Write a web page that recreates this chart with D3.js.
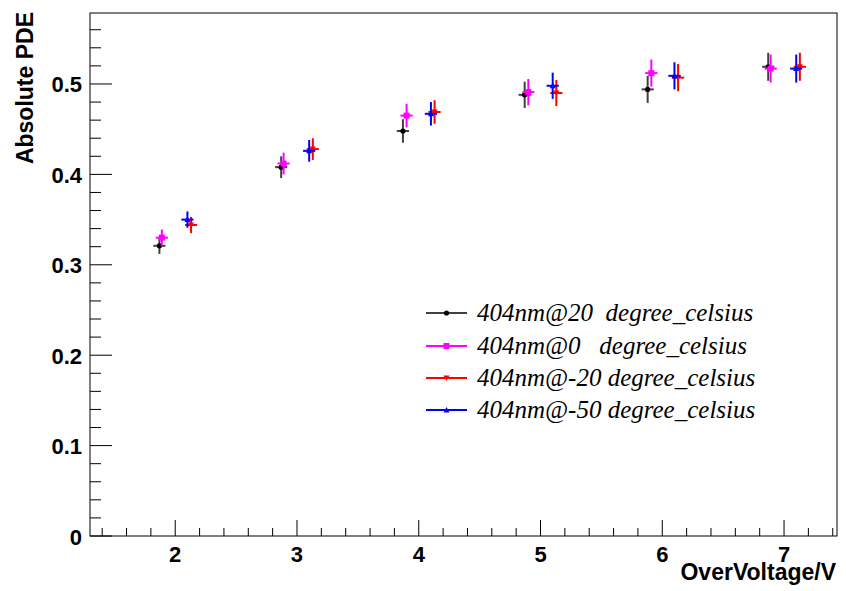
<!DOCTYPE html>
<html><head><meta charset="utf-8">
<script src="https://cdn.jsdelivr.net/npm/d3@7"></script>
<style>body{margin:0;background:#fff}svg{display:block}</style>
</head><body>
<script>
// ---- data ----
const xTicks = [2,3,4,5,6,7];
const yTicks = [0,0.1,0.2,0.3,0.4,0.5];
const seriesNames = ["404nm@20  degree_celsius","404nm@0   degree_celsius","404nm@-20 degree_celsius","404nm@-50 degree_celsius"];
const seriesColors = ["#000000","#ff00ff","#ff0000","#0000ff"];
const seriesMarkers = ["circle","square","triangleDown","triangleUp"];
const x20  = [1.87,2.87,3.87,4.87,5.88,6.87];
const y20  = [0.321,0.408,0.448,0.488,0.494,0.519];
const x0   = [1.89,2.89,3.90,4.90,5.91,6.89];
const y0   = [0.330,0.412,0.465,0.491,0.512,0.517];
const xM20 = [2.13,3.13,4.13,5.13,6.13,7.13];
const yM20 = [0.344,0.428,0.469,0.490,0.507,0.519];
const xM50 = [2.10,3.10,4.10,5.10,6.10,7.10];
const yM50 = [0.350,0.426,0.467,0.498,0.509,0.517];
const yErr = [0.009,0.012,0.013,0.0145,0.015,0.0155];
const xErr = 0.05;

const W=846,H=591;
const L=90,R=837,T=13,B=536;
const svg=d3.select("body").append("svg").attr("width",W).attr("height",H);
const x=d3.scaleLinear().domain([1.3,7.435]).range([L,R]);
const y=d3.scaleLinear().domain([0,0.5785]).range([B,T]);

// frame
svg.append("rect").attr("x",L).attr("y",T).attr("width",R-L).attr("height",B-T)
  .attr("fill","none").attr("stroke","#000").attr("stroke-width",1);

// x axis
const xMinor=d3.range(1.4,7.44,0.2).filter(v=>Math.abs(v-Math.round(v))>1e-6);
const gx=svg.append("g");
gx.selectAll(".mj").data(xTicks).join("line").attr("x1",d=>x(d)).attr("x2",d=>x(d))
  .attr("y1",B).attr("y2",B-16).attr("stroke","#000").attr("stroke-width",1);
gx.selectAll(".mn").data(xMinor).join("line").attr("class","mn").attr("x1",d=>x(d)).attr("x2",d=>x(d))
  .attr("y1",B).attr("y2",B-8).attr("stroke","#000").attr("stroke-width",1);
gx.selectAll("text").data(xTicks).join("text").attr("x",d=>x(d)).attr("y",562)
  .attr("text-anchor","middle").attr("font-family","Liberation Sans, Arial, sans-serif")
  .attr("font-weight","bold").attr("font-size",22).text(d=>d);
svg.append("text").attr("x",836).attr("y",580).attr("text-anchor","end")
  .attr("font-family","Liberation Sans, Arial, sans-serif").attr("font-weight","bold")
  .attr("font-size",23).text("OverVoltage/V");

// y axis
const yMinor=d3.range(0.02,0.575,0.02).filter(v=>Math.abs(v*10-Math.round(v*10))>1e-6);
const gy=svg.append("g");
gy.selectAll(".mj").data(yTicks).join("line").attr("x1",L).attr("x2",L+22)
  .attr("y1",d=>y(d)).attr("y2",d=>y(d)).attr("stroke","#000").attr("stroke-width",1);
gy.selectAll(".mn").data(yMinor).join("line").attr("class","mn").attr("x1",L).attr("x2",L+11)
  .attr("y1",d=>y(d)).attr("y2",d=>y(d)).attr("stroke","#000").attr("stroke-width",1);
gy.selectAll("text").data(yTicks).join("text").attr("x",82).attr("y",d=>y(d)+8.5)
  .attr("text-anchor","end").attr("font-family","Liberation Sans, Arial, sans-serif")
  .attr("font-weight","bold").attr("font-size",22).text(d=>d===0?"0":d.toFixed(1));
svg.append("text").attr("transform","translate(33,12) rotate(-90)").attr("text-anchor","end")
  .attr("font-family","Liberation Sans, Arial, sans-serif").attr("font-weight","bold")
  .attr("font-size",23).text("Absolute PDE");

// markers
function marker(g,type,cx,cy,color){
  if(type==="circle") g.append("circle").attr("cx",cx).attr("cy",cy).attr("r",2.6).attr("fill",color);
  else if(type==="square") g.append("rect").attr("x",cx-3).attr("y",cy-3).attr("width",6).attr("height",6).attr("fill",color);
  else if(type==="triangleDown") g.append("path").attr("d",`M${cx-3},${cy-2.5}L${cx+3},${cy-2.5}L${cx},${cy+3}Z`).attr("fill",color);
  else g.append("path").attr("d",`M${cx-3},${cy+2.5}L${cx+3},${cy+2.5}L${cx},${cy-3}Z`).attr("fill",color);
}
const barColors=["#404040","#ff00ff","#ff0000","#0000ff"];
const allX=[x20,x0,xM20,xM50], allY=[y20,y0,yM20,yM50];
allX.forEach((xs,s)=>{
  const g=svg.append("g");
  xs.forEach((xv,i)=>{
    const yv=allY[s][i];
    g.append("line").attr("x1",x(xv)).attr("x2",x(xv)).attr("y1",y(yv-yErr[i])).attr("y2",y(yv+yErr[i]))
      .attr("stroke",barColors[s]).attr("stroke-width",2);
    g.append("line").attr("x1",x(xv-xErr)).attr("x2",x(xv+xErr)).attr("y1",y(yv)).attr("y2",y(yv))
      .attr("stroke",barColors[s]).attr("stroke-width",2);
    marker(g,seriesMarkers[s],x(xv),y(yv),seriesColors[s]);
  });
});

// legend
const legY=[313,346,378,410];
seriesNames.forEach((n,s)=>{
  const g=svg.append("g");
  g.append("line").attr("x1",426).attr("x2",467).attr("y1",legY[s]).attr("y2",legY[s])
    .attr("stroke",barColors[s]).attr("stroke-width",2);
  marker(g,seriesMarkers[s],446.5,legY[s],seriesColors[s]);
  g.append("text").attr("x",477).attr("y",legY[s]+8).attr("font-family","Liberation Serif, Times New Roman, serif")
    .attr("font-style","italic").attr("font-size",25).attr("fill","#000").style("white-space","pre").text(n);
});
</script>
</body></html>
